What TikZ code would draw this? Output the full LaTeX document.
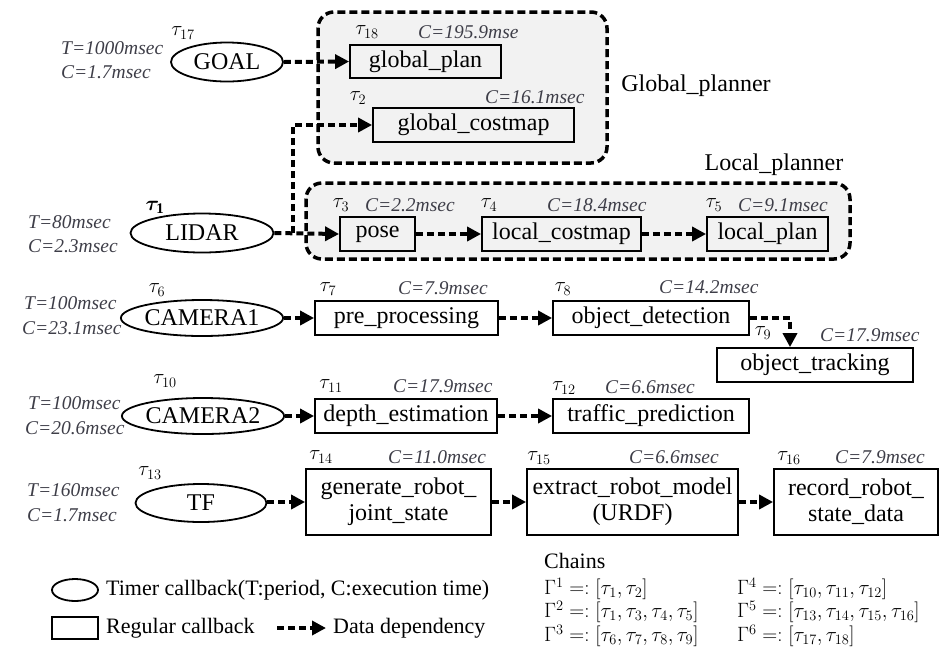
\documentclass[tikz,border=0pt]{standalone}
\usepackage{fontspec}
\usepackage{bm}
\setmainfont{Liberation Serif}
\usetikzlibrary{arrows.meta,shapes.geometric}
\definecolor{anntext}{RGB}{62,62,72}
\definecolor{groupfill}{RGB}{242,242,242}
\tikzset{
  timer/.style={ellipse,draw,line width=1.8pt,inner sep=0pt,font=\fontsize{24}{28}\selectfont},
  cb/.style={rectangle,draw,line width=1.8pt,inner sep=0pt,align=center,font=\fontsize{24}{26}\selectfont},
  dep/.style={line width=4pt,dash pattern=on 7pt off 4pt,-{Triangle[length=14pt,width=14pt]}},
  groupbox/.style={line width=3.5pt,dash pattern=on 8pt off 4pt,rounded corners=16pt,fill=groupfill},
  ann/.style={anchor=west,inner sep=0pt,text=anntext,font=\fontsize{19.5}{22}\selectfont\itshape},
  tau/.style={inner sep=0pt,font=\fontsize{21}{22}\selectfont},
  grouplabel/.style={inner sep=0pt,font=\fontsize{24}{28}\selectfont},
  legend/.style={anchor=west,inner sep=0pt,font=\fontsize{22}{26}\selectfont},
  chain/.style={anchor=west,inner sep=0pt,font=\fontsize{21}{23}\selectfont},
}
\begin{document}
\begin{tikzpicture}[x=1pt,y=-1pt]
\useasboundingbox (0,0) rectangle (940,649);

% planner groups
\draw[groupbox] (318,12) rectangle (607,163);
\draw[groupbox] (306,183) rectangle (850,259);
\node[grouplabel] (glabel) at (696,86) {Global\_planner};
\node[grouplabel] (llabel) at (774,165) {Local\_planner};

% timer callbacks
\node[timer,minimum width=112pt,minimum height=39pt] (goal) at (227,62) {GOAL};
\node[timer,minimum width=143pt,minimum height=39pt] (lidar) at (202,233) {LIDAR};
\node[timer,minimum width=142pt,minimum height=36pt] (cam1) at (202,318) {CAMERA1};
\node[timer,minimum width=144pt,minimum height=36pt] (cam2) at (203,416) {CAMERA2};
\node[timer,minimum width=131pt,minimum height=38pt] (tf) at (201,503) {TF};

% regular callbacks
\node[cb,minimum width=151pt,minimum height=33pt] (gplan) at (425.5,61.5) {global\_plan};
\node[cb,minimum width=201pt,minimum height=34pt] (gcost) at (473.5,125) {global\_costmap};
\node[cb,minimum width=75pt,minimum height=34pt] (pose) at (377.5,234) {pose};
\node[cb,minimum width=159pt,minimum height=34pt] (lcost) at (561.5,234) {local\_costmap};
\node[cb,minimum width=121pt,minimum height=34pt] (lplan) at (767.5,234) {local\_plan};
\node[cb,minimum width=183pt,minimum height=34pt] (prep) at (406.5,318) {pre\_processing};
\node[cb,minimum width=196pt,minimum height=34pt] (objdet) at (651,318) {object\_detection};
\node[cb,minimum width=196pt,minimum height=34pt] (objtr) at (815,365) {object\_tracking};
\node[cb,minimum width=182pt,minimum height=34pt] (depth) at (406,416) {depth\_estimation};
\node[cb,minimum width=196pt,minimum height=34pt] (traffic) at (651,416) {traffic\_prediction};
\node[cb,minimum width=185pt,minimum height=66pt] (gen) at (398.5,502) {generate\_robot\_\\joint\_state};
\node[cb,minimum width=211pt,minimum height=66pt] (ext) at (632.5,502) {extract\_robot\_model\\(URDF)};
\node[cb,minimum width=164pt,minimum height=66pt] (rec) at (856,502) {record\_robot\_\\state\_data};

% data dependencies
\coordinate (split) at (293,233);
\draw[dep] (goal.east) -- (gplan.west);
\draw[dep] (lidar.east) -- (pose.west);
\draw[dep] (split) |- (gcost.west);
\draw[dep] (pose.east) -- (lcost.west);
\draw[dep] (lcost.east) -- (lplan.west);
\draw[dep] (cam1.east) -- (prep.west);
\draw[dep] (prep.east) -- (objdet.west);
\draw[dep] (objdet.east) -| ([xshift=-25pt]objtr.north);
\draw[dep] (cam2.east) -- (depth.west);
\draw[dep] (depth.east) -- (traffic.west);
\draw[dep] (tf.east|-gen.west) -- (gen.west);
\draw[dep] (gen.east) -- (ext.west);
\draw[dep] (ext.east) -- (rec.west);

% task labels
\node[tau] (t17) at (183,33) {$\tau_{17}$};
\node[tau] (t18) at (367,32) {$\tau_{18}$};
\node[tau] (t2) at (358,98) {$\tau_{2}$};
\node[tau] (t1) at (155,207) {$\bm{\tau}_{\mathbf{1}}$};
\node[tau] (t3) at (341,205) {$\tau_{3}$};
\node[tau] (t4) at (489,205) {$\tau_{4}$};
\node[tau] (t5) at (714,205) {$\tau_{5}$};
\node[tau] (t6) at (157,290) {$\tau_{6}$};
\node[tau] (t7) at (328,289) {$\tau_{7}$};
\node[tau] (t8) at (563,289) {$\tau_{8}$};
\node[tau] (t9) at (763,333) {$\tau_{9}$};
\node[tau] (t10) at (165,381) {$\tau_{10}$};
\node[tau] (t11) at (331,386) {$\tau_{11}$};
\node[tau] (t12) at (564,388) {$\tau_{12}$};
\node[tau] (t13) at (150,473) {$\tau_{13}$};
\node[tau] (t14) at (321,457) {$\tau_{14}$};
\node[tau] (t15) at (539,458) {$\tau_{15}$};
\node[tau] (t16) at (789,458) {$\tau_{16}$};

% periods and execution times
\node[ann] (a1) at (61,48) {T=1000msec};
\node[ann] (a2) at (61,72) {C=1.7msec};
\node[ann] (a3) at (418,32) {C=195.9mse};
\node[ann] (a4) at (485,97) {C=16.1msec};
\node[ann] (a5) at (28,222) {T=80msec};
\node[ann] (a6) at (28,246) {C=2.3msec};
\node[ann] (a7) at (365,205) {C=2.2msec};
\node[ann] (a8) at (547,205) {C=18.4msec};
\node[ann] (a9) at (738,205) {C=9.1msec};
\node[ann] (a10) at (24,303) {T=100msec};
\node[ann] (a11) at (22,328) {C=23.1msec};
\node[ann] (a12) at (398,288) {C=7.9msec};
\node[ann] (a13) at (659,287) {C=14.2msec};
\node[ann] (a14) at (820,335) {C=17.9msec};
\node[ann] (a15) at (28,403) {T=100msec};
\node[ann] (a16) at (25,428) {C=20.6msec};
\node[ann] (a17) at (393,386) {C=17.9msec};
\node[ann] (a18) at (605,387) {C=6.6msec};
\node[ann] (a19) at (27,490) {T=160msec};
\node[ann] (a20) at (27,515) {C=1.7msec};
\node[ann] (a21) at (388,457) {C=11.0msec};
\node[ann] (a22) at (629,457) {C=6.6msec};
\node[ann] (a23) at (835,457) {C=7.9msec};

% legend
\node[ellipse,draw,line width=1.8pt,minimum width=46pt,minimum height=22pt,inner sep=0pt] (legtimer) at (75,590) {};
\node[legend] (legtimertxt) at (106,590) {Timer callback(T:period, C:execution time)};
\node[draw,line width=1.8pt,minimum width=46pt,minimum height=22pt,inner sep=0pt] (legcb) at (75,628) {};
\node[legend] (legcbtxt) at (106,628) {Regular callback};
\coordinate (legarrowA) at (277,628);
\coordinate (legarrowB) at (326,628);
\draw[dep] (legarrowA) -- (legarrowB);
\node[legend] (legdeptxt) at (333,628) {Data dependency};

% chains
\node[legend] (chains) at (544,561) {Chains};
\node[chain] (g1) at (544,589) {$\Gamma^1 =: [\tau_1,\tau_2]$};
\node[chain] (g2) at (544,612) {$\Gamma^2 =: [\tau_1,\tau_3,\tau_4,\tau_5]$};
\node[chain] (g3) at (544,636) {$\Gamma^3 =: [\tau_6,\tau_7,\tau_8,\tau_9]$};
\node[chain] (g4) at (737,589) {$\Gamma^4 =: [\tau_{10},\tau_{11},\tau_{12}]$};
\node[chain] (g5) at (737,612) {$\Gamma^5 =: [\tau_{13},\tau_{14},\tau_{15},\tau_{16}]$};
\node[chain] (g6) at (737,636) {$\Gamma^6 =: [\tau_{17},\tau_{18}]$};
\end{tikzpicture}
\end{document}
